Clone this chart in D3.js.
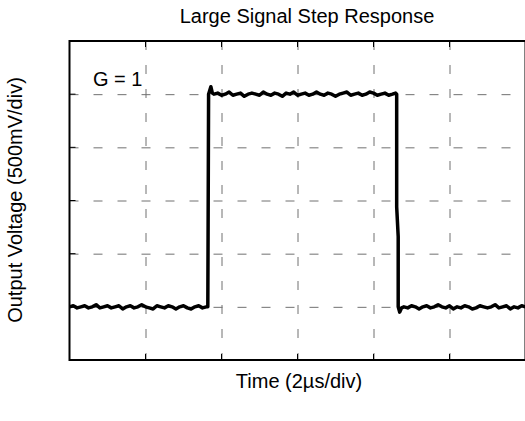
<!DOCTYPE html>
<html>
<head>
<meta charset="utf-8">
<script src="https://cdn.jsdelivr.net/npm/d3@7"></script>
<style>
  html, body { margin: 0; padding: 0; background: #fff; }
  svg { display: block; }
  text { font-family: "Liberation Sans", Arial, sans-serif; fill: #000; }
</style>
</head>
<body>
<svg id="chart" width="525" height="421"></svg>
<script>
// ---- data (time in µs, output in V; 2 µs/div, 0.5 V/div) ----
const titleText = "Large Signal Step Response";
const xLabelText = "Time (2µs/div)";
const yLabelText = "Output Voltage (500mV/div)";
const gainText = "G = 1";

const xTicks = [0, 2, 4, 6, 8, 10, 12];
const yTicks = [-1.5, -1.0, -0.5, 0, 0.5, 1.0, 1.5];

const preStepTime = [0.0,0.1,0.2,0.3,0.4,0.5,0.6,0.7,0.8,0.9,1.0,1.1,1.2,1.3,1.4,1.5,1.6,1.7,1.8,1.9,2.0,2.1,2.2,2.3,2.4,2.5,2.6,2.7,2.8,2.9,3.0,3.1,3.2,3.3,3.4,3.5,3.6];
const preStepVolt = [-1.00,-0.99,-1.01,-1.00,-0.99,-1.01,-1.00,-0.98,-1.01,-1.00,-0.99,-1.01,-1.00,-0.99,-1.02,-1.00,-0.99,-1.01,-1.00,-0.98,-1.00,-1.01,-1.02,-0.99,-1.00,-1.01,-0.99,-1.00,-1.02,-1.00,-0.99,-1.01,-1.02,-1.00,-0.99,-1.01,-1.00];

const riseTime = [3.64, 3.66, 3.72, 3.76];
const riseVolt = [-1.00, 1.00, 1.07, 1.01];

const highTime = [3.8,3.9,4.0,4.1,4.2,4.3,4.4,4.5,4.6,4.7,4.8,4.9,5.0,5.1,5.2,5.3,5.4,5.5,5.6,5.7,5.8,5.9,6.0,6.1,6.2,6.3,6.4,6.5,6.6,6.7,6.8,6.9,7.0,7.1,7.2,7.3,7.4,7.5,7.6,7.7,7.8,7.9,8.0,8.1,8.2,8.3,8.4,8.5];
const highVolt = [1.00,1.01,0.99,1.00,1.02,0.99,1.00,1.01,0.98,1.00,1.01,1.00,0.99,1.02,1.00,0.99,1.01,1.00,0.98,1.01,1.00,1.02,0.99,1.00,1.01,0.99,1.00,1.02,1.00,0.99,1.01,1.00,0.98,1.00,1.01,1.02,0.99,1.00,1.01,0.99,1.00,1.02,1.01,0.99,1.00,1.01,0.99,1.00];

const fallTime = [8.58, 8.61, 8.61, 8.65, 8.65, 8.69, 8.74];
const fallVolt = [1.01, 1.00, -0.06, -0.34, -1.00, -1.05, -1.01];

const postStepTime = [8.8,8.9,9.0,9.1,9.2,9.3,9.4,9.5,9.6,9.7,9.8,9.9,10.0,10.1,10.2,10.3,10.4,10.5,10.6,10.7,10.8,10.9,11.0,11.1,11.2,11.3,11.4,11.5,11.6,11.7,11.8,11.9,12.0];
const postStepVolt = [-1.00,-1.01,-0.99,-1.00,-1.02,-1.00,-0.99,-1.01,-1.00,-0.98,-1.00,-1.01,-0.99,-1.02,-1.00,-1.01,-0.99,-1.00,-1.02,-1.01,-0.99,-1.00,-1.01,-1.00,-0.98,-1.01,-1.00,-0.99,-1.02,-1.00,-1.01,-0.99,-1.00];

// ---- build series table ----
const timeUs = [].concat(preStepTime, riseTime, highTime, fallTime, postStepTime);
const volts = [].concat(preStepVolt, riseVolt, highVolt, fallVolt, postStepVolt);
const trace = timeUs.map((t, i) => ({ t, v: volts[i] }));

// ---- layout ----
const svg = d3.select("#chart");
const plotL = 69.5, plotR = 525.5, plotT = 41, plotB = 360;

const x = d3.scaleLinear().domain([0, 12]).range([plotL, plotR]);
const y = d3.scaleLinear().domain([-1.5, 1.5]).range([plotB, plotT]);

const gridColor = "#707070";

// vertical gridlines (dash pattern starts at the top border)
const gx = svg.append("g")
  .attr("transform", `translate(0,${plotT})`)
  .call(d3.axisBottom(x).tickValues(xTicks.slice(1, -1)).tickSize(plotB - plotT).tickFormat(""));
gx.select(".domain").remove();
gx.selectAll("line")
  .attr("stroke", gridColor).attr("stroke-width", 1)
  .attr("stroke-dasharray", "9,15");

// horizontal gridlines (dash pattern starts at the left border)
const gy = svg.append("g")
  .attr("transform", `translate(${plotR},0)`)
  .call(d3.axisLeft(y).tickValues(yTicks.slice(1, -1)).tickSize(plotR - plotL).tickFormat(""));
gy.select(".domain").remove();
gy.selectAll("line")
  .attr("x1", -(plotR - plotL)).attr("x2", 0)
  .attr("stroke", gridColor).attr("stroke-width", 1)
  .attr("stroke-dasharray", "9,15");

// short solid ticks on the frame
const tickLen = 6;
svg.append("g").selectAll("line").data(yTicks.slice(1, -1)).join("line")
  .attr("x1", plotL).attr("x2", plotL + tickLen)
  .attr("y1", d => y(d)).attr("y2", d => y(d))
  .attr("stroke", "#000").attr("stroke-width", 1);
svg.append("g").selectAll("line").data(xTicks.slice(1, -1)).join("line")
  .attr("x1", d => x(d)).attr("x2", d => x(d))
  .attr("y1", plotB).attr("y2", plotB - tickLen)
  .attr("stroke", "#000").attr("stroke-width", 1);
svg.append("g").selectAll("line").data(xTicks.slice(1, -1)).join("line")
  .attr("x1", d => x(d)).attr("x2", d => x(d))
  .attr("y1", plotT).attr("y2", plotT + tickLen)
  .attr("stroke", "#000").attr("stroke-width", 1);

// frame
svg.append("rect")
  .attr("x", plotL).attr("y", plotT)
  .attr("width", plotR - plotL).attr("height", plotB - plotT)
  .attr("fill", "none").attr("stroke", "#000").attr("stroke-width", 2);

// trace
const line = d3.line().x(d => x(d.t)).y(d => y(d.v));
svg.append("path")
  .datum(trace)
  .attr("d", line)
  .attr("fill", "none")
  .attr("stroke", "#000")
  .attr("stroke-width", 3.5)
  .attr("stroke-linejoin", "round");

// texts
svg.append("text")
  .attr("x", 307).attr("y", 23)
  .attr("text-anchor", "middle")
  .attr("font-size", 20)
  .text(titleText);

svg.append("text")
  .attr("x", 93).attr("y", 86)
  .attr("font-size", 20)
  .text(gainText);

svg.append("text")
  .attr("x", 299).attr("y", 388)
  .attr("text-anchor", "middle")
  .attr("font-size", 20)
  .text(xLabelText);

svg.append("text")
  .attr("transform", "translate(22,200) rotate(-90)")
  .attr("text-anchor", "middle")
  .attr("font-size", 20)
  .text(yLabelText);
</script>
</body>
</html>
